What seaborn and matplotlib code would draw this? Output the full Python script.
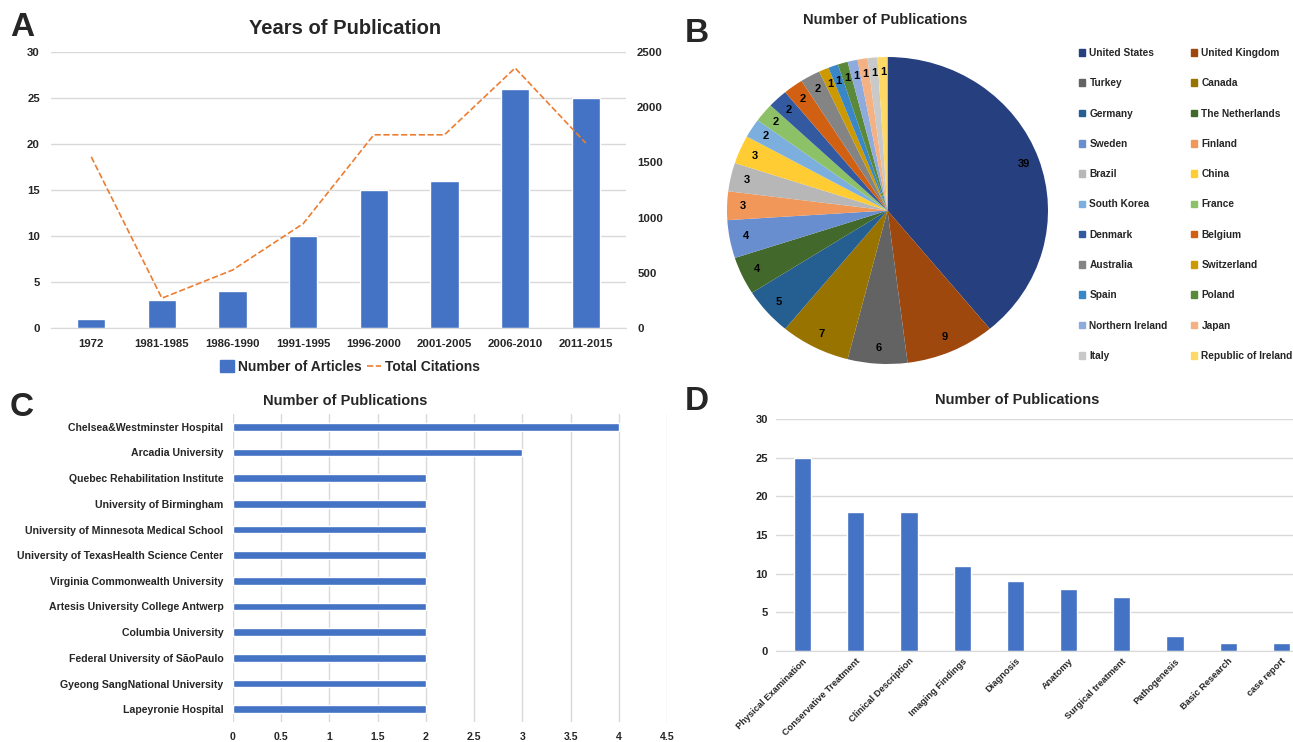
import numpy as np
import pandas as pd
import matplotlib
matplotlib.use('Agg')
import matplotlib.pyplot as plt
from matplotlib.patches import Patch
from matplotlib.lines import Line2D
import seaborn as sns

sns.set_style('white')
plt.rcParams['font.family'] = ['Liberation Sans', 'DejaVu Sans']
plt.rcParams['font.weight'] = 'bold'

W, H = 1293, 742


def box(x0, y0, x1, y1):
    # pixel box -> figure fraction [left, bottom, width, height]
    return [x0 / W, 1 - y1 / H, (x1 - x0) / W, (y1 - y0) / H]


# A: years of publication
periods = ['1972', '1981-1985', '1986-1990', '1991-1995', '1996-2000',
           '2001-2005', '2006-2010', '2011-2015']
articles = [1, 3, 4, 10, 15, 16, 26, 25]
citations = [1550, 270, 525, 945, 1750, 1750, 2355, 1675]

# B: countries
countries = ['United States', 'United Kingdom', 'Turkey', 'Canada', 'Germany',
             'The Netherlands', 'Sweden', 'Finland', 'Brazil', 'China',
             'South Korea', 'France', 'Denmark', 'Belgium', 'Australia',
             'Switzerland', 'Spain', 'Poland', 'Northern Ireland', 'Japan',
             'Italy', 'Republic of Ireland']
country_pubs = [39, 9, 6, 7, 5, 4, 4, 3, 3, 3, 2, 2, 2, 2, 2, 1, 1, 1, 1, 1, 1, 1]
country_colors = ['#263F7E', '#9E480E', '#636363', '#997300', '#255E91', '#43682B',
                  '#698ED0', '#F1975A', '#B7B7B7', '#FFCD33', '#7CAFDD', '#8CC168',
                  '#335AA1', '#D26012', '#848484', '#CC9A00', '#3A87C8', '#5A8A39',
                  '#8FAADC', '#F4B183', '#C9C9C9', '#FFD966']

# C: institutions
institutions = ['Chelsea&Westminster Hospital', 'Arcadia University',
                'Quebec Rehabilitation Institute', 'University of Birmingham',
                'University of Minnesota Medical School',
                'University of TexasHealth Science Center',
                'Virginia Commonwealth University', 'Artesis University College Antwerp',
                'Columbia University', 'Federal University of SãoPaulo',
                'Gyeong SangNational University', 'Lapeyronie Hospital']
inst_pubs = [4, 3, 2, 2, 2, 2, 2, 2, 2, 2, 2, 2]

# D: topics
topics = ['Physical Examination', 'Conservative Treatment', 'Clinical Description',
          'Imaging Findings', 'Diagnosis', 'Anatomy', 'Surgical treatment',
          'Pathogenesis', 'Basic Research', 'case report']
topic_pubs = [25, 18, 18, 11, 9, 8, 7, 2, 1, 1]

BLUE = '#4472C4'
ORANGE = '#ED7D31'
GRID = '#D9D9D9'

fig = plt.figure(figsize=(W / 100, H / 100), dpi=100)

# ---------------- A ----------------
axA = fig.add_axes(box(51, 52, 626, 328))
dfA = pd.DataFrame({'period': periods, 'articles': articles, 'citations': citations})
sns.barplot(data=dfA, x='period', y='articles', color=BLUE, saturation=1,
            width=0.4, ax=axA)
axA.set_ylim(0, 30)
axA.set_yticks(range(0, 31, 5))
axA.yaxis.grid(True, color=GRID, lw=1)
axA.set_axisbelow(True)
axA.set_xlabel('')
axA.set_ylabel('')
for s in ['top', 'right', 'left']:
    axA.spines[s].set_visible(False)
axA.spines['bottom'].set_color(GRID)
axA.tick_params(length=0, labelsize=8.2, pad=8)

axA2 = axA.twinx()
sns.lineplot(data=dfA, x='period', y='citations', color=ORANGE, ls='--', lw=1.2,
             ax=axA2)
axA2.set_ylim(0, 2500)
axA2.set_yticks(range(0, 2501, 500))
axA2.set_ylabel('')
axA2.set_xlabel('')
for s in axA2.spines.values():
    s.set_visible(False)
axA2.tick_params(length=0, labelsize=8.2, pad=8)

fig.legend(handles=[Patch(color=BLUE, label='Number of Articles'),
                    Line2D([], [], color=ORANGE, ls='--', lw=1.2, label='Total Citations')],
           loc='center', bbox_to_anchor=(350 / W, 1 - 367 / H), ncol=2, frameon=False,
           fontsize=10, handlelength=1.0, handleheight=0.9, handletextpad=0.3,
           columnspacing=0.4)

fig.text(345 / W, 1 - 28 / H, 'Years of Publication', ha='center', va='center',
         fontsize=14.5, weight='bold')

# ---------------- B ----------------
axB = fig.add_axes(box(727, 57, 1048, 364))
total = sum(country_pubs)
axB.pie(country_pubs, colors=country_colors, startangle=90, counterclock=False,
        autopct=lambda p: f'{p * total / 100:.0f}', pctdistance=0.9,
        textprops=dict(fontsize=8, weight='bold', color='black'),
        wedgeprops=dict(linewidth=0))
axB.set_aspect('auto')
axB.set_xlim(-1, 1)
axB.set_ylim(-1, 1)

order = list(range(0, len(countries), 2)) + list(range(1, len(countries), 2))
handles = [Patch(color=country_colors[i], label=countries[i]) for i in order]
fig.legend(handles=handles, ncol=2, loc='upper left',
           bbox_to_anchor=(1075 / W, 1 - 44 / H), frameon=False, fontsize=7.3,
           handlelength=0.62, handleheight=0.62, handletextpad=0.4,
           columnspacing=2.3, labelspacing=2.0, borderaxespad=0)

fig.text(885 / W, 1 - 20 / H, 'Number of Publications', ha='center', va='center',
         fontsize=10.5, weight='bold')

# ---------------- C ----------------
axC = fig.add_axes(box(233, 414, 667, 722))
sns.barplot(x=inst_pubs, y=institutions, orient='h', color=BLUE, saturation=1,
            width=0.3, ax=axC)
axC.set_xlim(0, 4.5)
ticksC = np.arange(0, 4.51, 0.5)
axC.set_xticks(ticksC)
axC.set_xticklabels([f'{t:g}' for t in ticksC])
axC.xaxis.grid(True, color=GRID, lw=1)
axC.set_axisbelow(True)
for s in axC.spines.values():
    s.set_visible(False)
axC.tick_params(length=0, labelsize=7.6, pad=7)

fig.text(345 / W, 1 - 401 / H, 'Number of Publications', ha='center', va='center',
         fontsize=10.5, weight='bold')

# ---------------- D ----------------
axD = fig.add_axes(box(776, 419, 1308, 651))
sns.barplot(x=topics, y=topic_pubs, color=BLUE, saturation=1, width=0.32, ax=axD)
axD.set_ylim(0, 30)
axD.set_yticks(range(0, 31, 5))
axD.yaxis.grid(True, color=GRID, lw=1)
axD.set_axisbelow(True)
for s in ['top', 'right', 'left']:
    axD.spines[s].set_visible(False)
axD.spines['bottom'].set_color(GRID)
axD.tick_params(axis='y', length=0, labelsize=8, pad=6)
axD.tick_params(axis='x', length=0, pad=4)
plt.setp(axD.get_xticklabels(), rotation=45, ha='right', rotation_mode='anchor',
         fontsize=6.7)

fig.text(1017 / W, 1 - 400 / H, 'Number of Publications', ha='center', va='center',
         fontsize=10.5, weight='bold')

# panel letters
for letter, x, y in [('A', 22, 28), ('B', 697, 33), ('C', 22, 408), ('D', 697, 401)]:
    fig.text(x / W, 1 - y / H, letter, ha='center', va='center', fontsize=24,
             weight='bold')

fig.savefig('out.png', dpi=100)
